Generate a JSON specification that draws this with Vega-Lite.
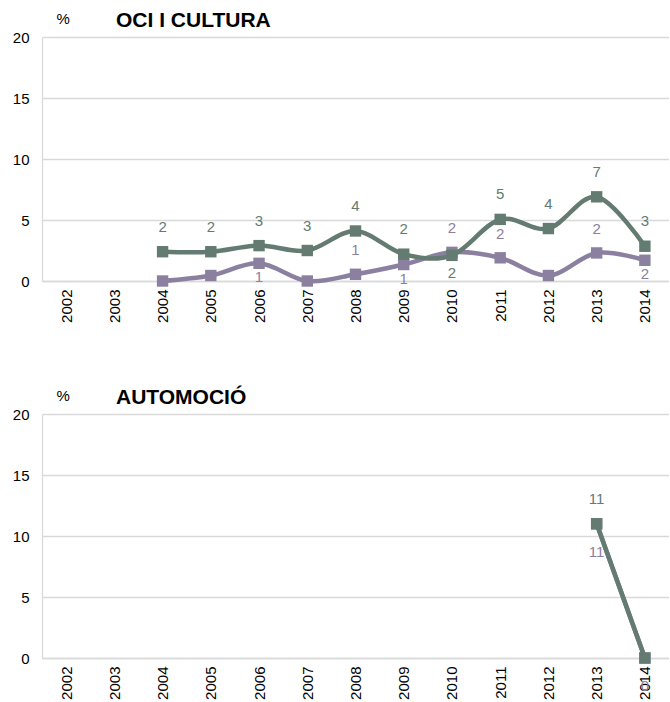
{
  "$schema": "https://vega.github.io/schema/vega-lite/v6.json",
  "padding": {"left": 12, "top": 9, "right": 0, "bottom": 0},
  "background": "white",
  "config": {
    "view": {"stroke": null},
    "font": "Liberation Sans",
    "axis": {"labelFont": "Liberation Sans", "labelFontSize": 15, "labelColor": "#000000", "ticks": false, "domainColor": "#D9D9D9", "gridColor": "#D9D9D9", "gridWidth": 1.3, "domainWidth": 1.3},
    "title": {"font": "Liberation Sans", "fontSize": 21, "fontWeight": "bold", "color": "#000000", "anchor": "start", "frame": "group"}
  },
  "data": {
    "values": [
      {"panel": "OCI I CULTURA", "series": "s1", "year": "2004", "value": 2.4, "label": "2"},
      {"panel": "OCI I CULTURA", "series": "s1", "year": "2005", "value": 2.4, "label": "2"},
      {"panel": "OCI I CULTURA", "series": "s1", "year": "2006", "value": 2.9, "label": "3"},
      {"panel": "OCI I CULTURA", "series": "s1", "year": "2007", "value": 2.5, "label": "3"},
      {"panel": "OCI I CULTURA", "series": "s1", "year": "2008", "value": 4.1, "label": "4"},
      {"panel": "OCI I CULTURA", "series": "s1", "year": "2009", "value": 2.2, "label": "2"},
      {"panel": "OCI I CULTURA", "series": "s1", "year": "2010", "value": 2.1, "label": "2"},
      {"panel": "OCI I CULTURA", "series": "s1", "year": "2011", "value": 5.05, "label": "5"},
      {"panel": "OCI I CULTURA", "series": "s1", "year": "2012", "value": 4.3, "label": "4"},
      {"panel": "OCI I CULTURA", "series": "s1", "year": "2013", "value": 6.9, "label": "7"},
      {"panel": "OCI I CULTURA", "series": "s1", "year": "2014", "value": 2.85, "label": "3"},
      {"panel": "OCI I CULTURA", "series": "s2", "year": "2004", "value": 0.0, "label": ""},
      {"panel": "OCI I CULTURA", "series": "s2", "year": "2005", "value": 0.45, "label": ""},
      {"panel": "OCI I CULTURA", "series": "s2", "year": "2006", "value": 1.45, "label": "1"},
      {"panel": "OCI I CULTURA", "series": "s2", "year": "2007", "value": 0.0, "label": ""},
      {"panel": "OCI I CULTURA", "series": "s2", "year": "2008", "value": 0.55, "label": "1"},
      {"panel": "OCI I CULTURA", "series": "s2", "year": "2009", "value": 1.35, "label": "1"},
      {"panel": "OCI I CULTURA", "series": "s2", "year": "2010", "value": 2.35, "label": "2"},
      {"panel": "OCI I CULTURA", "series": "s2", "year": "2011", "value": 1.9, "label": "2"},
      {"panel": "OCI I CULTURA", "series": "s2", "year": "2012", "value": 0.45, "label": ""},
      {"panel": "OCI I CULTURA", "series": "s2", "year": "2013", "value": 2.3, "label": "2"},
      {"panel": "OCI I CULTURA", "series": "s2", "year": "2014", "value": 1.7, "label": "2"},
      {"panel": "AUTOMOCIÓ", "series": "s1", "year": "2013", "value": 11.0, "label": "11"},
      {"panel": "AUTOMOCIÓ", "series": "s1", "year": "2014", "value": 0.0, "label": ""},
      {"panel": "AUTOMOCIÓ", "series": "s2", "year": "2013", "value": 11.0, "label": "11"},
      {"panel": "AUTOMOCIÓ", "series": "s2", "year": "2014", "value": 0.0, "label": "0"}
    ]
  },
  "spacing": 63,
  "vconcat": [
    {
      "width": 627,
      "height": 244,
      "title": {"text": "OCI I CULTURA", "dx": 74, "offset": -19.5},
      "transform": [{"filter": "datum.panel == 'OCI I CULTURA'"}],
      "encoding": {
        "x": {"field": "year", "type": "ordinal", "scale": {"type": "point", "domain": ["2002","2003","2004","2005","2006","2007","2008","2009","2010","2011","2012","2013","2014"], "padding": 0.5}, "axis": {"title": null, "labelAngle": -90, "labelPadding": 8, "grid": false}},
        "y": {"field": "value", "type": "quantitative", "scale": {"domain": [0, 20]}, "axis": {"values": [0, 5, 10, 15, 20], "labelPadding": 13, "grid": true, "title": "%", "titleAngle": 0, "titleAlign": "left", "titleBaseline": "middle", "titleX": 14, "titleY": -19, "titleFontSize": 15, "titleFontWeight": "normal", "titleColor": "#000000", "titleFont": "Liberation Sans"}}
      },
      "layer": [
        {"transform": [{"filter": "datum.series == 's2'"}], "mark": {"type": "line", "interpolate": "cardinal", "color": "#8B80A0", "strokeWidth": 4.5}},
        {"transform": [{"filter": "datum.series == 's2'"}], "mark": {"type": "point", "shape": "square", "filled": true, "size": 130, "opacity": 1, "color": "#8B80A0"}},
        {"transform": [{"filter": "datum.series == 's1'"}], "mark": {"type": "line", "interpolate": "cardinal", "color": "#637B71", "strokeWidth": 4.5}},
        {"transform": [{"filter": "datum.series == 's1'"}], "mark": {"type": "point", "shape": "square", "filled": true, "size": 130, "opacity": 1, "color": "#637B71"}},
        {"transform": [{"filter": "datum.series == 's1' && datum.year != '2010'"}], "mark": {"type": "text", "fontSize": 15, "color": "#637B71", "baseline": "middle", "dy": -25}, "encoding": {"text": {"field": "label"}}},
        {"transform": [{"filter": "datum.series == 's1' && datum.year == '2010'"}], "mark": {"type": "text", "fontSize": 15, "color": "#637B71", "baseline": "middle", "dy": 18}, "encoding": {"text": {"field": "label"}}},
        {"transform": [{"filter": "datum.series == 's2' && indexof(['2008','2010','2011','2013'], datum.year) >= 0"}], "mark": {"type": "text", "fontSize": 15, "color": "#8B80A0", "baseline": "middle", "dy": -24}, "encoding": {"text": {"field": "label"}}},
        {"transform": [{"filter": "datum.series == 's2' && indexof(['2006','2009','2014'], datum.year) >= 0"}], "mark": {"type": "text", "fontSize": 15, "color": "#8B80A0", "baseline": "middle", "dy": 14}, "encoding": {"text": {"field": "label"}}}
      ]
    },
    {
      "width": 627,
      "height": 244,
      "title": {"text": "AUTOMOCIÓ", "dx": 74, "offset": -19.5},
      "transform": [{"filter": "datum.panel == 'AUTOMOCIÓ'"}],
      "encoding": {
        "x": {"field": "year", "type": "ordinal", "scale": {"type": "point", "domain": ["2002","2003","2004","2005","2006","2007","2008","2009","2010","2011","2012","2013","2014"], "padding": 0.5}, "axis": {"title": null, "labelAngle": -90, "labelPadding": 8, "grid": false}},
        "y": {"field": "value", "type": "quantitative", "scale": {"domain": [0, 20]}, "axis": {"values": [0, 5, 10, 15, 20], "labelPadding": 13, "grid": true, "title": "%", "titleAngle": 0, "titleAlign": "left", "titleBaseline": "middle", "titleX": 14, "titleY": -19, "titleFontSize": 15, "titleFontWeight": "normal", "titleColor": "#000000", "titleFont": "Liberation Sans"}}
      },
      "layer": [
        {"transform": [{"filter": "datum.series == 's2'"}], "mark": {"type": "line", "color": "#8B80A0", "strokeWidth": 4.5}},
        {"transform": [{"filter": "datum.series == 's2'"}], "mark": {"type": "point", "shape": "square", "filled": true, "size": 130, "opacity": 1, "color": "#8B80A0"}},
        {"transform": [{"filter": "datum.series == 's1'"}], "mark": {"type": "line", "color": "#637B71", "strokeWidth": 4.5}},
        {"transform": [{"filter": "datum.series == 's1'"}], "mark": {"type": "point", "shape": "square", "filled": true, "size": 130, "opacity": 1, "color": "#637B71"}},
        {"transform": [{"filter": "datum.series == 's1' && datum.label != ''"}], "mark": {"type": "text", "fontSize": 15, "color": "#637B71", "baseline": "middle", "dy": -25}, "encoding": {"text": {"field": "label"}}},
        {"transform": [{"filter": "datum.series == 's2' && datum.label != ''"}], "mark": {"type": "text", "fontSize": 15, "color": "#8B80A0", "baseline": "middle", "dy": 28}, "encoding": {"text": {"field": "label"}}}
      ]
    }
  ]
}
